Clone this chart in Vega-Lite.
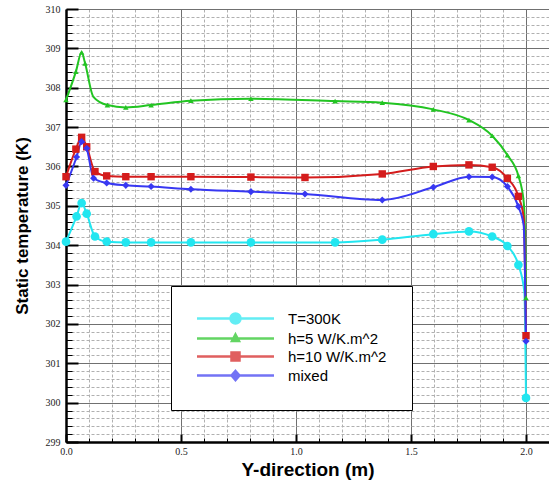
{
  "$schema": "https://vega.github.io/schema/vega-lite/v6.json",
  "width": 483,
  "height": 433,
  "autosize": {"type": "none"},
  "padding": {"left": 66, "top": 9, "right": 0, "bottom": 40},
  "background": "white",
  "config": {"view": {"stroke": null}},
  "data": {"values": [
    {"s": "T=300K", "x": 0, "t": 304.09, "m": 1},
    {"s": "T=300K", "x": 0.046, "t": 304.73, "m": 1},
    {"s": "T=300K", "x": 0.068, "t": 305.07, "m": 1},
    {"s": "T=300K", "x": 0.09, "t": 304.8, "m": 1},
    {"s": "T=300K", "x": 0.126, "t": 304.22, "m": 1},
    {"s": "T=300K", "x": 0.177, "t": 304.09, "m": 1},
    {"s": "T=300K", "x": 0.26, "t": 304.07, "m": 1},
    {"s": "T=300K", "x": 0.37, "t": 304.07, "m": 1},
    {"s": "T=300K", "x": 0.543, "t": 304.07, "m": 1},
    {"s": "T=300K", "x": 0.804, "t": 304.07, "m": 1},
    {"s": "T=300K", "x": 1.17, "t": 304.07, "m": 1},
    {"s": "T=300K", "x": 1.375, "t": 304.14, "m": 1},
    {"s": "T=300K", "x": 1.597, "t": 304.28, "m": 1},
    {"s": "T=300K", "x": 1.752, "t": 304.35, "m": 1},
    {"s": "T=300K", "x": 1.853, "t": 304.22, "m": 1},
    {"s": "T=300K", "x": 1.919, "t": 303.98, "m": 1},
    {"s": "T=300K", "x": 1.967, "t": 303.5, "m": 1},
    {"s": "T=300K", "x": 1.993, "t": 302.8, "m": 0},
    {"s": "T=300K", "x": 2.0, "t": 300.12, "m": 1},

    {"s": "h=5 W/K.m^2", "x": 0, "t": 307.69, "m": 1},
    {"s": "h=5 W/K.m^2", "x": 0.043, "t": 308.41, "m": 1},
    {"s": "h=5 W/K.m^2", "x": 0.068, "t": 308.9, "m": 1},
    {"s": "h=5 W/K.m^2", "x": 0.083, "t": 308.62, "m": 1},
    {"s": "h=5 W/K.m^2", "x": 0.119, "t": 307.77, "m": 0},
    {"s": "h=5 W/K.m^2", "x": 0.18, "t": 307.56, "m": 1},
    {"s": "h=5 W/K.m^2", "x": 0.26, "t": 307.5, "m": 1},
    {"s": "h=5 W/K.m^2", "x": 0.37, "t": 307.56, "m": 1},
    {"s": "h=5 W/K.m^2", "x": 0.543, "t": 307.67, "m": 1},
    {"s": "h=5 W/K.m^2", "x": 0.804, "t": 307.72, "m": 1},
    {"s": "h=5 W/K.m^2", "x": 1.17, "t": 307.66, "m": 1},
    {"s": "h=5 W/K.m^2", "x": 1.375, "t": 307.62, "m": 1},
    {"s": "h=5 W/K.m^2", "x": 1.597, "t": 307.45, "m": 1},
    {"s": "h=5 W/K.m^2", "x": 1.752, "t": 307.18, "m": 1},
    {"s": "h=5 W/K.m^2", "x": 1.853, "t": 306.78, "m": 1},
    {"s": "h=5 W/K.m^2", "x": 1.919, "t": 306.29, "m": 1},
    {"s": "h=5 W/K.m^2", "x": 1.967, "t": 305.76, "m": 1},
    {"s": "h=5 W/K.m^2", "x": 1.99, "t": 305.1, "m": 0},
    {"s": "h=5 W/K.m^2", "x": 1.997, "t": 304.0, "m": 0},
    {"s": "h=5 W/K.m^2", "x": 2.0, "t": 302.66, "m": 1},

    {"s": "h=10 W/K.m^2", "x": 0, "t": 305.74, "m": 1},
    {"s": "h=10 W/K.m^2", "x": 0.043, "t": 306.44, "m": 1},
    {"s": "h=10 W/K.m^2", "x": 0.068, "t": 306.74, "m": 1},
    {"s": "h=10 W/K.m^2", "x": 0.09, "t": 306.5, "m": 1},
    {"s": "h=10 W/K.m^2", "x": 0.126, "t": 305.87, "m": 1},
    {"s": "h=10 W/K.m^2", "x": 0.177, "t": 305.76, "m": 1},
    {"s": "h=10 W/K.m^2", "x": 0.26, "t": 305.74, "m": 1},
    {"s": "h=10 W/K.m^2", "x": 0.37, "t": 305.74, "m": 1},
    {"s": "h=10 W/K.m^2", "x": 0.543, "t": 305.74, "m": 1},
    {"s": "h=10 W/K.m^2", "x": 0.804, "t": 305.73, "m": 1},
    {"s": "h=10 W/K.m^2", "x": 1.039, "t": 305.72, "m": 1},
    {"s": "h=10 W/K.m^2", "x": 1.375, "t": 305.81, "m": 1},
    {"s": "h=10 W/K.m^2", "x": 1.597, "t": 306.0, "m": 1},
    {"s": "h=10 W/K.m^2", "x": 1.752, "t": 306.04, "m": 1},
    {"s": "h=10 W/K.m^2", "x": 1.853, "t": 305.98, "m": 1},
    {"s": "h=10 W/K.m^2", "x": 1.919, "t": 305.7, "m": 1},
    {"s": "h=10 W/K.m^2", "x": 1.967, "t": 305.24, "m": 1},
    {"s": "h=10 W/K.m^2", "x": 1.99, "t": 304.7, "m": 0},
    {"s": "h=10 W/K.m^2", "x": 2.0, "t": 301.7, "m": 1},

    {"s": "mixed", "x": 0, "t": 305.52, "m": 1},
    {"s": "mixed", "x": 0.046, "t": 306.24, "m": 1},
    {"s": "mixed", "x": 0.068, "t": 306.63, "m": 1},
    {"s": "mixed", "x": 0.09, "t": 306.46, "m": 1},
    {"s": "mixed", "x": 0.12, "t": 305.7, "m": 1},
    {"s": "mixed", "x": 0.177, "t": 305.58, "m": 1},
    {"s": "mixed", "x": 0.26, "t": 305.52, "m": 1},
    {"s": "mixed", "x": 0.37, "t": 305.49, "m": 1},
    {"s": "mixed", "x": 0.543, "t": 305.42, "m": 1},
    {"s": "mixed", "x": 0.804, "t": 305.36, "m": 1},
    {"s": "mixed", "x": 1.039, "t": 305.3, "m": 1},
    {"s": "mixed", "x": 1.375, "t": 305.15, "m": 1},
    {"s": "mixed", "x": 1.597, "t": 305.47, "m": 1},
    {"s": "mixed", "x": 1.752, "t": 305.74, "m": 1},
    {"s": "mixed", "x": 1.853, "t": 305.73, "m": 1},
    {"s": "mixed", "x": 1.919, "t": 305.49, "m": 1},
    {"s": "mixed", "x": 1.967, "t": 304.98, "m": 1},
    {"s": "mixed", "x": 1.99, "t": 304.5, "m": 0},
    {"s": "mixed", "x": 2.0, "t": 301.56, "m": 1}
  ]},
  "resolve": {"axis": {"x": "independent", "y": "independent"}},
  "layer": [
    {
      "mark": {"type": "point", "opacity": 0},
      "encoding": {
        "x": {"field": "x", "type": "quantitative", "scale": {"domain": [0, 2.1], "nice": false, "zero": false},
          "axis": {"orient": "bottom", "values": [0,0.1,0.2,0.3,0.4,0.6,0.7,0.8,0.9,1.1,1.2,1.3,1.4,1.6,1.7,1.8,1.9,2.1],
            "grid": true, "gridDash": [3, 2], "gridColor": "#b0b0b0", "gridWidth": 1,
            "labels": false, "domain": false, "ticks": true, "tickSize": -4, "tickColor": "#000", "tickWidth": 1, "title": null}},
        "y": {"field": "t", "type": "quantitative", "scale": {"domain": [299, 310], "nice": false, "zero": false},
          "axis": {"orient": "left", "values": [299.2,299.4,299.6,299.8,300.2,300.4,300.6,300.8,301.2,301.4,301.6,301.8,302.2,302.4,302.6,302.8,303.2,303.4,303.6,303.8,304.2,304.4,304.6,304.8,305.2,305.4,305.6,305.8,306.2,306.4,306.6,306.8,307.2,307.4,307.6,307.8,308.2,308.4,308.6,308.8,309.2,309.4,309.6,309.8],
            "grid": true, "gridDash": [3, 2], "gridColor": "#b0b0b0", "gridWidth": 1,
            "labels": false, "domain": false, "ticks": true, "tickSize": -6, "tickColor": "#000", "tickWidth": 1, "title": null}}
      }
    },
    {
      "mark": {"type": "line", "interpolate": "monotone", "strokeWidth": 2},
      "encoding": {
        "x": {"field": "x", "type": "quantitative",
          "axis": {"orient": "bottom", "values": [0, 0.5, 1, 1.5, 2], "grid": true, "gridColor": "#707070", "gridWidth": 1,
            "domain": true, "domainColor": "#000", "domainWidth": 2.5, "tickSize": -8, "tickWidth": 2, "tickColor": "#000",
            "labelFont": "Liberation Serif", "labelFontSize": 10, "labelColor": "#222", "labelPadding": 12, "labelFlush": false,
            "title": "Y-direction (m)", "titleFont": "Liberation Sans", "titleFontSize": 19, "titleFontWeight": "bold", "titleColor": "#000", "titlePadding": 4}},
        "y": {"field": "t", "type": "quantitative",
          "axis": {"orient": "left", "values": [299,300,301,302,303,304,305,306,307,308,309,310], "grid": true, "gridColor": "#707070", "gridWidth": 1,
            "domain": true, "domainColor": "#000", "domainWidth": 2.5, "tickSize": -12, "tickWidth": 2, "tickColor": "#000",
            "labelFont": "Liberation Serif", "labelFontSize": 10, "labelColor": "#222", "labelPadding": 18, "labelFlush": false,
            "title": "Static temperature (K)", "titleFont": "Liberation Sans", "titleFontSize": 17, "titleFontWeight": "bold", "titleColor": "#000", "titleX": -35}},
        "color": {"field": "s", "type": "nominal", "legend": null,
          "scale": {"domain": ["mixed", "h=10 W/K.m^2", "h=5 W/K.m^2", "T=300K"], "range": ["#3838f2", "#d41c1c", "#22c422", "#22e6f0"]}}
      }
    },
    {
      "transform": [{"filter": "datum.m == 1 && datum.s == 'T=300K'"}],
      "mark": {"type": "point", "filled": true, "shape": "circle", "size": 75, "opacity": 1},
      "encoding": {
        "x": {"field": "x", "type": "quantitative", "axis": null},
        "y": {"field": "t", "type": "quantitative", "axis": null},
        "color": {"field": "s", "type": "nominal", "legend": null}
      }
    },
    {
      "transform": [{"filter": "datum.m == 1 && datum.s == 'h=5 W/K.m^2'"}],
      "mark": {"type": "point", "filled": true, "shape": "triangle-up", "size": 30, "opacity": 1},
      "encoding": {
        "x": {"field": "x", "type": "quantitative", "axis": null},
        "y": {"field": "t", "type": "quantitative", "axis": null},
        "color": {"field": "s", "type": "nominal", "legend": null}
      }
    },
    {
      "transform": [{"filter": "datum.m == 1 && datum.s == 'h=10 W/K.m^2'"}],
      "mark": {"type": "point", "filled": true, "shape": "square", "size": 55, "opacity": 1},
      "encoding": {
        "x": {"field": "x", "type": "quantitative", "axis": null},
        "y": {"field": "t", "type": "quantitative", "axis": null},
        "color": {"field": "s", "type": "nominal", "legend": null}
      }
    },
    {
      "transform": [{"filter": "datum.m == 1 && datum.s == 'mixed'"}],
      "mark": {"type": "point", "filled": true, "shape": "diamond", "size": 50, "opacity": 1},
      "encoding": {
        "x": {"field": "x", "type": "quantitative", "axis": null},
        "y": {"field": "t", "type": "quantitative", "axis": null},
        "color": {"field": "s", "type": "nominal", "legend": null}
      }
    },
    {
      "transform": [{"filter": "datum.m == 9"}],
      "mark": {"type": "point", "size": 100},
      "encoding": {
        "x": {"field": "x", "type": "quantitative", "axis": null},
        "y": {"field": "t", "type": "quantitative", "axis": null},
        "shape": {"field": "s", "type": "nominal",
          "scale": {"domain": ["T=300K", "h=5 W/K.m^2", "h=10 W/K.m^2", "mixed"],
            "range": ["M-1.3,0H14.1M5.4,0A1,1,0,1,1,7.4,0A1,1,0,1,1,5.4,0Z",
                      "M-1.3,0H14.1M6.4,-0.8L7.1,0.5L5.7,0.5Z",
                      "M-1.3,0H14.1M5.6,-0.8H7.2V0.8H5.6Z",
                      "M-1.3,0H14.1M6.4,-0.9L7.2,0L6.4,0.9L5.6,0Z"]},
          "legend": {"title": null, "orient": "none", "legendX": 105, "legendY": 277, "padding": 25,
            "fillColor": "white", "strokeColor": "#000", "symbolSize": 100, "symbolStrokeWidth": 2.5,
            "labelFont": "Liberation Sans", "labelFontSize": 15, "labelColor": "#000", "labelOffset": 77, "rowPadding": 0, "labelLimit": 300,
            "encoding": {"symbols": {
              "stroke": {"value": {"expr": "datum.value == 'T=300K' ? '#22e6f0' : datum.value == 'mixed' ? '#3838f2' : datum.value == 'h=5 W/K.m^2' ? '#22c422' : '#d41c1c'"}},
              "fill": {"value": {"expr": "datum.value == 'T=300K' ? '#22e6f0' : datum.value == 'mixed' ? '#3838f2' : datum.value == 'h=5 W/K.m^2' ? '#22c422' : '#d41c1c'"}}
            }}}}
      }
    }
  ]
}
